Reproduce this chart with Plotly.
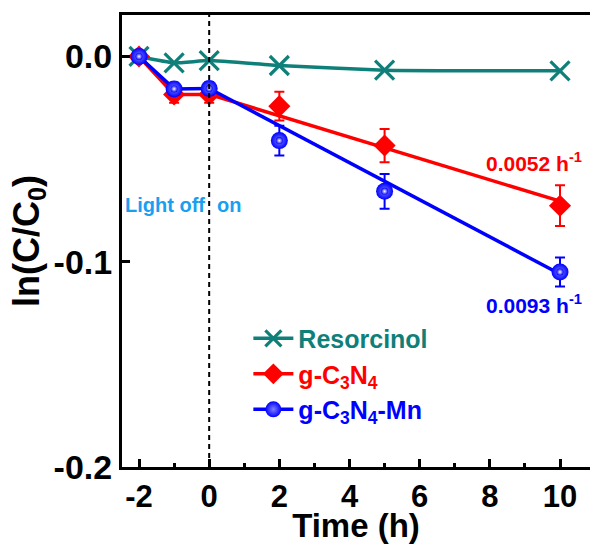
import plotly.graph_objects as go

# ---------------- data ----------------
time_h = [-2, -1, 0, 2, 5, 10]

resorcinol = [0.0, -0.0031, -0.0020, -0.0044, -0.0067, -0.0070]

gcn = [0.0, -0.0185, -0.0185, -0.0242, -0.0434, -0.0727]
gcn_err = [0.0, 0.004, 0.004, 0.0070, 0.0081, 0.0099]

gcn_mn = [0.0, -0.0158, -0.0156, -0.0410, -0.0657, -0.1050]
gcn_mn_err = [0.0, 0.003, 0.003, 0.0072, 0.0085, 0.0071]

fit_x = [0, 10]
gcn_fit = [-0.0185, -0.0705]
gcn_mn_fit = [-0.0156, -0.1060]

x_ticks = [-2, 0, 2, 4, 6, 8, 10]
x_tick_labels = ["-2", "0", "2", "4", "6", "8", "10"]
y_ticks = [0.0, -0.1, -0.2]
y_tick_labels = ["0.0", "-0.1", "-0.2"]

TEAL = "#0f8079"
RED = "#ff0000"
BLUE = "#0000ff"
LIGHTBLUE = "#1a9ff0"
FONT = "Liberation Sans, Arial, sans-serif"

n_dark = 3  # points before light on (-2, -1, 0)

fig = go.Figure()

# Resorcinol
fig.add_trace(go.Scatter(
    x=time_h, y=resorcinol, mode="lines+markers", name="<span style='color:%s'>Resorcinol</span>" % TEAL,
    line=dict(color=TEAL, width=3.5, shape="spline", smoothing=0.4),
    marker=dict(symbol="x-thin", size=19, line=dict(color=TEAL, width=3.2), color=TEAL),
))

# g-C3N4
fig.add_trace(go.Scatter(
    x=fit_x, y=gcn_fit, mode="lines", showlegend=False,
    line=dict(color=RED, width=3.5), hoverinfo="skip",
))
fig.add_trace(go.Scatter(
    x=time_h[:n_dark], y=gcn[:n_dark], mode="lines+markers",
    name="<span style='color:%s'>g-C<sub>3</sub>N<sub>4</sub></span>" % RED,
    line=dict(color=RED, width=3.5),
    marker=dict(symbol="diamond", size=17, color=RED),
    error_y=dict(type="data", array=gcn_err[:n_dark], color=RED, thickness=2, width=5),
))
fig.add_trace(go.Scatter(
    x=time_h[n_dark:], y=gcn[n_dark:], mode="markers", showlegend=False,
    marker=dict(symbol="diamond", size=17, color=RED),
    error_y=dict(type="data", array=gcn_err[n_dark:], color=RED, thickness=2, width=5),
))

# g-C3N4-Mn
fig.add_trace(go.Scatter(
    x=fit_x, y=gcn_mn_fit, mode="lines", showlegend=False,
    line=dict(color=BLUE, width=3.5), hoverinfo="skip",
))
fig.add_trace(go.Scatter(
    x=time_h[:n_dark], y=gcn_mn[:n_dark], mode="lines+markers",
    name="<span style='color:%s'>g-C<sub>3</sub>N<sub>4</sub>-Mn</span>" % BLUE,
    line=dict(color=BLUE, width=3.5),
    marker=dict(symbol="circle", size=17, color=BLUE,
                gradient=dict(type="radial", color="#7f7fff")),
    error_y=dict(type="data", array=gcn_mn_err[:n_dark], color=BLUE, thickness=2, width=5),
))
fig.add_trace(go.Scatter(
    x=time_h[n_dark:], y=gcn_mn[n_dark:], mode="markers", showlegend=False,
    marker=dict(symbol="circle", size=17, color=BLUE,
                gradient=dict(type="radial", color="#7f7fff")),
    error_y=dict(type="data", array=gcn_mn_err[n_dark:], color=BLUE, thickness=2, width=5),
))
# highlight on spheres
fig.add_trace(go.Scatter(
    x=time_h, y=gcn_mn, mode="markers", showlegend=False, hoverinfo="skip",
    marker=dict(symbol="circle", size=7, color=BLUE,
                gradient=dict(type="radial", color="#ffffff")),
))

# light on/off dashed line
fig.add_shape(type="line", x0=0, x1=0, y0=0, y1=1, xref="x", yref="paper",
              line=dict(color="black", width=2, dash="5px,4px"))

fig.add_annotation(x=0, y=-0.0724, text="Light off", showarrow=False,
                   xanchor="right", xshift=-2, font=dict(family=FONT, size=20, color=LIGHTBLUE, weight="bold"))
fig.add_annotation(x=0, y=-0.0724, text="on", showarrow=False,
                   xanchor="left", xshift=6, font=dict(family=FONT, size=20, color=LIGHTBLUE, weight="bold"))
fig.add_annotation(x=9.26, y=-0.0515, text="0.0052 h<sup>-1</sup>", showarrow=False,
                   font=dict(family=FONT, size=21, color=RED, weight="bold"))
fig.add_annotation(x=9.26, y=-0.1207, text="0.0093 h<sup>-1</sup>", showarrow=False,
                   font=dict(family=FONT, size=21, color=BLUE, weight="bold"))

fig.update_layout(
    width=590, height=544,
    margin=dict(l=122, r=0, t=15, b=77),
    plot_bgcolor="white", paper_bgcolor="white",
    font=dict(family=FONT, color="black", weight="bold"),
    showlegend=True,
    legend=dict(x=0.27, y=0.335, xanchor="left", yanchor="top",
                bgcolor="rgba(0,0,0,0)", font=dict(family=FONT, size=25, weight="bold"),
                tracegroupgap=0, itemwidth=40),
)

fig.update_xaxes(
    range=[-2.485, 10.855], tickvals=x_ticks, ticktext=x_tick_labels, ticks="inside", ticklen=8, tickwidth=3,
    tickcolor="black", showline=True, linewidth=3, linecolor="black", mirror=True,
    showgrid=False, zeroline=False,
    tickfont=dict(family=FONT, size=31, color="black", weight="bold"),
    minor=dict(dtick=1, tick0=-1, ticks="inside", ticklen=4, tickwidth=3, tickcolor="black", showgrid=False),
    title=dict(text="Time (h)", font=dict(family=FONT, size=33, color="black", weight="bold"), standoff=0),
)
fig.update_yaxes(
    range=[-0.2, 0.0202], tickvals=y_ticks, ticktext=y_tick_labels, ticks="inside", ticklen=8,
    tickwidth=3, tickcolor="black", showline=True, linewidth=3, linecolor="black", mirror=False,
    showgrid=False, zeroline=False,
    tickfont=dict(family=FONT, size=34, color="black", weight="bold"),
    title=dict(text="ln(C/C<sub>0</sub>)", font=dict(family=FONT, size=36, color="black", weight="bold"), standoff=4),
)

fig.write_html("out.html")
